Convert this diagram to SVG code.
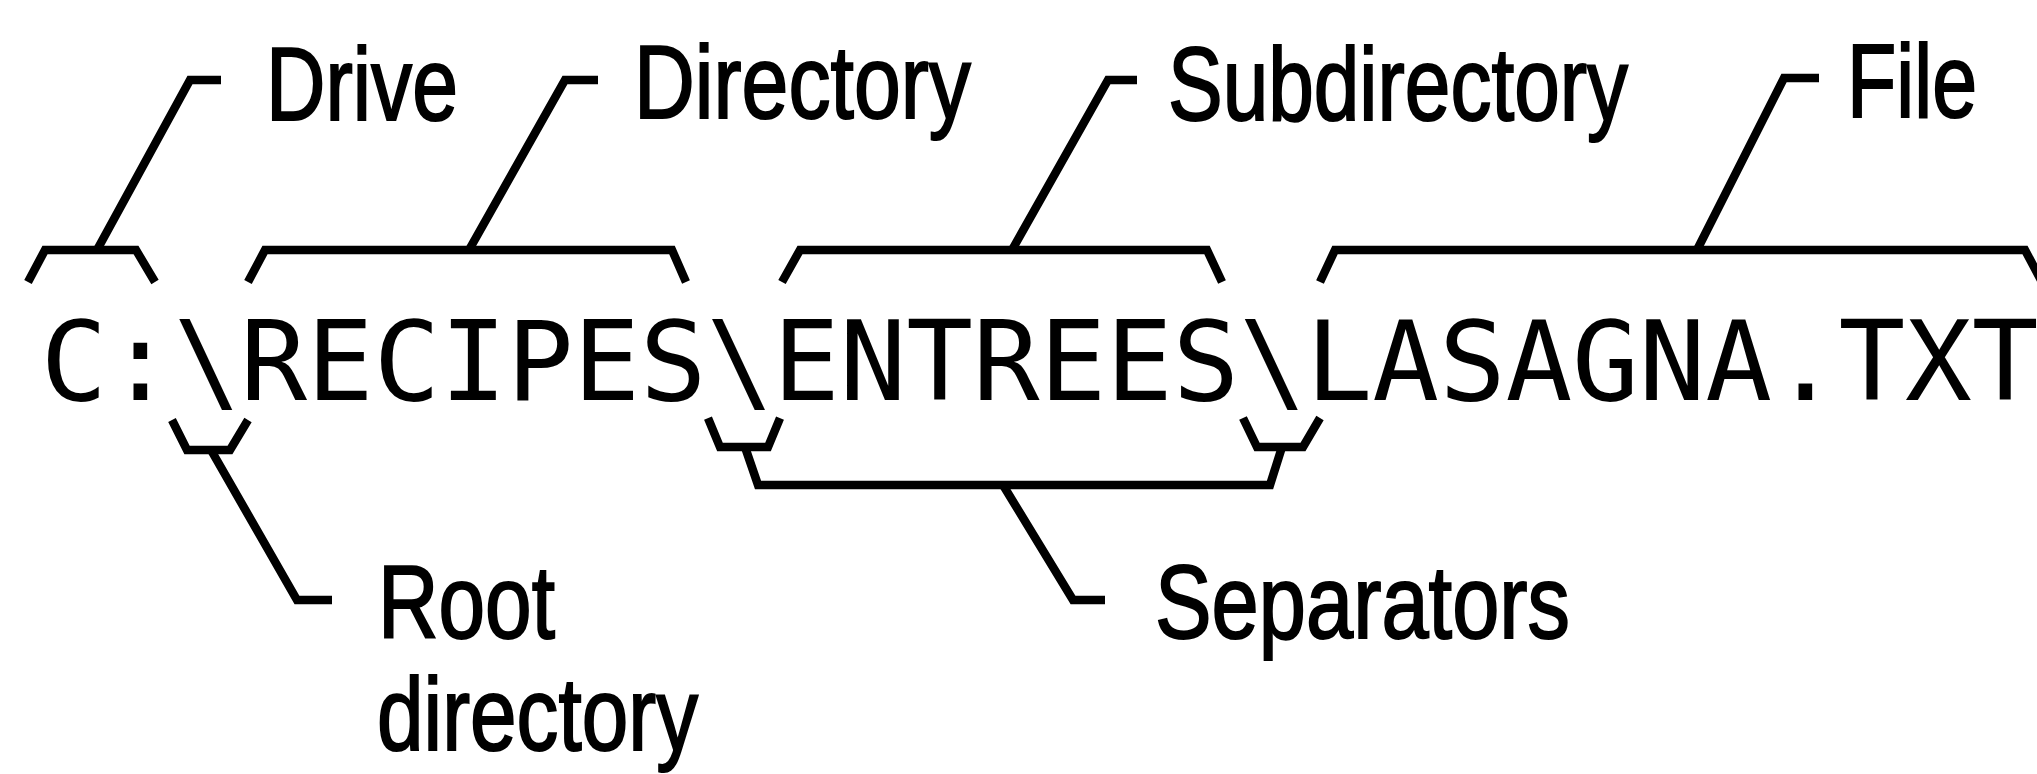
<svg xmlns="http://www.w3.org/2000/svg" width="2037" height="774" viewBox="0 0 2037 774">
<style>
.bg{fill:#ffffff}
.ln{fill:none;stroke:#000;stroke-width:8.5;stroke-linejoin:miter;stroke-linecap:butt}
.lbl{font-family:"Liberation Sans",Arial,sans-serif;font-size:103px;fill:#000;stroke:#000;stroke-width:2}
.path{font-family:"DejaVu Sans Mono","Liberation Mono",monospace;font-size:111px;fill:#000}
</style>
<rect class="bg" x="0" y="0" width="2037" height="774"/>
<g id="connectors">
  <path class="ln" d="M28,282 L45,250 L136,250 L155,282"/>
  <path class="ln" d="M97,250 L190,80 L221,80"/>
  <path class="ln" d="M248,282 L265,250 L672,250 L686,282"/>
  <path class="ln" d="M469,250 L565,80 L598,80"/>
  <path class="ln" d="M782,282 L800,250 L1207,250 L1222,282"/>
  <path class="ln" d="M1012,250 L1108,80 L1137,80"/>
  <path class="ln" d="M1320,282 L1335,250 L2025,250 L2042,282"/>
  <path class="ln" d="M1697,250 L1784,78 L1819,78"/>
  <path class="ln" d="M172,420 L187,450 L230,450 L248,420"/>
  <path class="ln" d="M211,450 L297,600 L332,600"/>
  <path class="ln" d="M708,418 L720,447 L768,447 L780,418"/>
  <path class="ln" d="M745,447 L758,485 L1270,485 L1282,447"/>
  <path class="ln" d="M1243,418 L1257,447 L1303,447 L1320,418"/>
  <path class="ln" d="M1003,485 L1073,600 L1105,600"/>
</g>
<g id="pathname">
  <text class="path" x="40.5" y="400" textLength="1998" lengthAdjust="spacing">C:\RECIPES\ENTREES\LASAGNA.TXT</text>
</g>
<g id="drive"><text class="lbl" x="266" y="120" textLength="192" lengthAdjust="spacingAndGlyphs">Drive</text></g>
<g id="directory"><text class="lbl" x="634" y="118" textLength="337" lengthAdjust="spacingAndGlyphs">Directory</text></g>
<g id="subdirectory"><text class="lbl" x="1168" y="120" textLength="460" lengthAdjust="spacingAndGlyphs">Subdirectory</text></g>
<g id="file"><text class="lbl" x="1847" y="117" textLength="130" lengthAdjust="spacingAndGlyphs">File</text></g>
<g id="root-directory">
  <text class="lbl" x="378" y="638" textLength="177" lengthAdjust="spacingAndGlyphs">Root</text>
  <text class="lbl" x="377" y="750" textLength="321" lengthAdjust="spacingAndGlyphs">directory</text>
</g>
<g id="separators"><text class="lbl" x="1155" y="638" textLength="415" lengthAdjust="spacingAndGlyphs">Separators</text></g>
</svg>
